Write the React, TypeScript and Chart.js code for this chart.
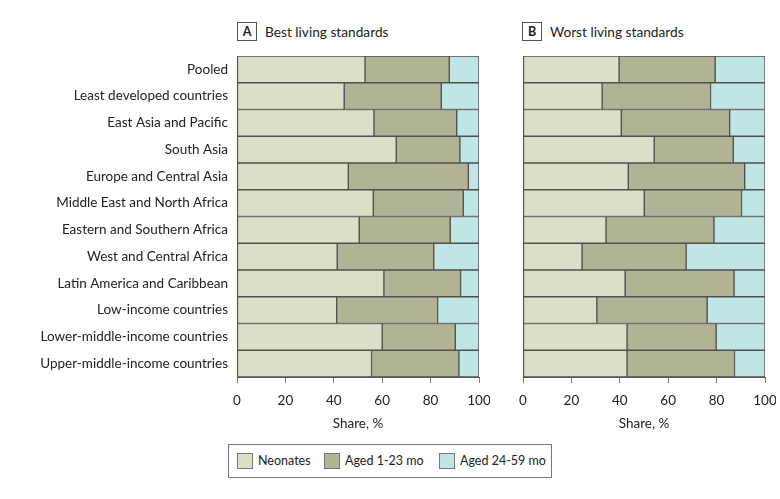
import React, { useEffect, useRef } from "react";
import { Chart, registerables } from "chart.js";

Chart.register(...registerables);

const categories = [
  "Pooled",
  "Least developed countries",
  "East Asia and Pacific",
  "South Asia",
  "Europe and Central Asia",
  "Middle East and North Africa",
  "Eastern and Southern Africa",
  "West and Central Africa",
  "Latin America and Caribbean",
  "Low-income countries",
  "Lower-middle-income countries",
  "Upper-middle-income countries",
];

const seriesNames = ["Neonates", "Aged 1-23 mo", "Aged 24-59 mo"];

// Panel A: best living standards (shares, %)
const bestNeonates = [52.9, 44.3, 56.6, 65.8, 46.0, 56.3, 50.5, 41.4, 60.7, 41.2, 60.0, 55.6];
const bestAged1to23 = [34.8, 40.1, 34.2, 26.3, 49.6, 37.2, 37.6, 39.9, 31.7, 41.7, 30.2, 36.1];
const bestAged24to59 = [12.3, 15.6, 9.2, 7.9, 4.4, 6.5, 11.9, 18.7, 7.6, 17.1, 9.8, 8.3];

// Panel B: worst living standards (shares, %)
const worstNeonates = [39.7, 32.7, 40.6, 54.2, 43.5, 50.1, 34.3, 24.4, 42.2, 30.5, 43.0, 43.0];
const worstAged1to23 = [39.7, 44.8, 44.8, 32.7, 48.1, 40.2, 44.6, 43.0, 45.0, 45.6, 36.8, 44.4];
const worstAged24to59 = [20.6, 22.5, 14.6, 13.1, 8.4, 9.7, 21.1, 32.6, 12.8, 23.9, 20.2, 12.6];

const xTicks = [0, 20, 40, 60, 80, 100];

const colors = ["rgb(220,222,200)", "rgb(178,178,148)", "rgb(192,229,229)"];
const borderCol = "rgb(80,80,80)";
const FAMILY = "Lato, sans-serif";
const canvasFont = (size: number) => ({ family: FAMILY, size });

function makeConfig(values: number[][], showLabels: boolean, yWidth: number): any {
  return {
    type: "bar",
    data: {
      labels: categories,
      datasets: values.map((v, i) => ({
        label: seriesNames[i],
        data: v,
        backgroundColor: colors[i],
        borderColor: borderCol,
        borderWidth: 1,
        borderSkipped: false,
        barPercentage: 1,
        categoryPercentage: 1,
      })),
    },
    options: {
      indexAxis: "y",
      animation: false,
      responsive: false,
      maintainAspectRatio: false,
      layout: { padding: { top: 16, right: 11, left: 0, bottom: 0 } },
      plugins: { legend: { display: false }, tooltip: { enabled: false } },
      scales: {
        x: {
          stacked: true,
          min: 0,
          max: 100,
          afterBuildTicks: (scale: any) => {
            scale.ticks = xTicks.map((v) => ({ value: v }));
          },
          grid: { drawOnChartArea: false, drawTicks: true, tickLength: 6, color: "rgb(120,120,120)" },
          border: { display: true, color: "rgb(90,90,90)", width: 1 },
          ticks: { color: "#222", font: canvasFont(13.5), padding: 10, maxRotation: 0 },
          title: {
            display: true,
            text: "Share, %",
            color: "#222",
            font: canvasFont(13.5),
            padding: { top: 4, bottom: 8 },
          },
          afterFit: (scale: any) => {
            scale.height = 63;
            scale.paddingLeft = 0;
            scale.paddingRight = 0;
          },
        },
        y: {
          stacked: true,
          grid: { display: false, drawTicks: false },
          border: { display: true, color: "rgb(90,90,90)", width: 1 },
          ticks: {
            display: showLabels,
            color: "#222",
            font: canvasFont(13.5),
            padding: 9,
            autoSkip: false,
          },
          afterFit: (scale: any) => {
            scale.width = yWidth;
            scale.paddingTop = 0;
            scale.paddingBottom = 0;
          },
        },
      },
    },
  };
}

function Panel(props: { values: number[][]; showLabels: boolean; yWidth: number; left: number; width: number }) {
  const ref = useRef<HTMLCanvasElement | null>(null);
  useEffect(() => {
    if (!ref.current) return;
    const chart = new Chart(ref.current, makeConfig(props.values, props.showLabels, props.yWidth));
    return () => chart.destroy();
  }, []);
  return (
    <canvas
      ref={ref}
      width={props.width}
      height={400}
      style={{ position: "absolute", left: props.left, top: 40, width: props.width, height: 400 }}
    />
  );
}

function PanelTitle(props: { letter: string; text: string; left: number }) {
  return (
    <div
      style={{
        position: "absolute",
        left: props.left,
        top: 21,
        height: 20,
        display: "flex",
        alignItems: "center",
        fontFamily: FAMILY,
        fontSize: 13.7,
        color: "#222",
        whiteSpace: "nowrap",
      }}
    >
      <div
        style={{
          width: 20,
          height: 19,
          boxSizing: "border-box",
          border: "1px solid #555",
          display: "flex",
          alignItems: "center",
          justifyContent: "center",
          fontWeight: 700,
          fontSize: 12.5,
          marginRight: 8,
        }}
      >
        {props.letter}
      </div>
      <span>{props.text}</span>
    </div>
  );
}

const legendSwatchX = [237, 324, 439];
const legendTextX = [258, 345, 460];

export default function App() {
  return (
    <div style={{ position: "absolute", left: 0, top: 0, width: 780, height: 499, background: "#fff", overflow: "hidden" }}>
      <PanelTitle letter="A" text="Best living standards" left={237} />
      <PanelTitle letter="B" text="Worst living standards" left={522} />
      <Panel values={[bestNeonates, bestAged1to23, bestAged24to59]} showLabels={true} yWidth={237} left={0} width={490} />
      <Panel values={[worstNeonates, worstAged1to23, worstAged24to59]} showLabels={false} yWidth={23} left={500} width={276} />
      <div
        style={{
          position: "absolute",
          left: 228,
          top: 444,
          width: 324,
          height: 34,
          border: "1px solid #777",
          boxSizing: "border-box",
        }}
      />
      {seriesNames.map((n, i) => (
        <React.Fragment key={n}>
          <div
            style={{
              position: "absolute",
              left: legendSwatchX[i],
              top: 453,
              width: 16,
              height: 16,
              boxSizing: "border-box",
              background: colors[i],
              border: "1px solid #777",
            }}
          />
          <div
            style={{
              position: "absolute",
              left: legendTextX[i],
              top: 452,
              height: 18,
              lineHeight: "18px",
              fontFamily: FAMILY,
              fontSize: 12.5,
              color: "#222",
              whiteSpace: "nowrap",
            }}
          >
            {n}
          </div>
        </React.Fragment>
      ))}
    </div>
  );
}
